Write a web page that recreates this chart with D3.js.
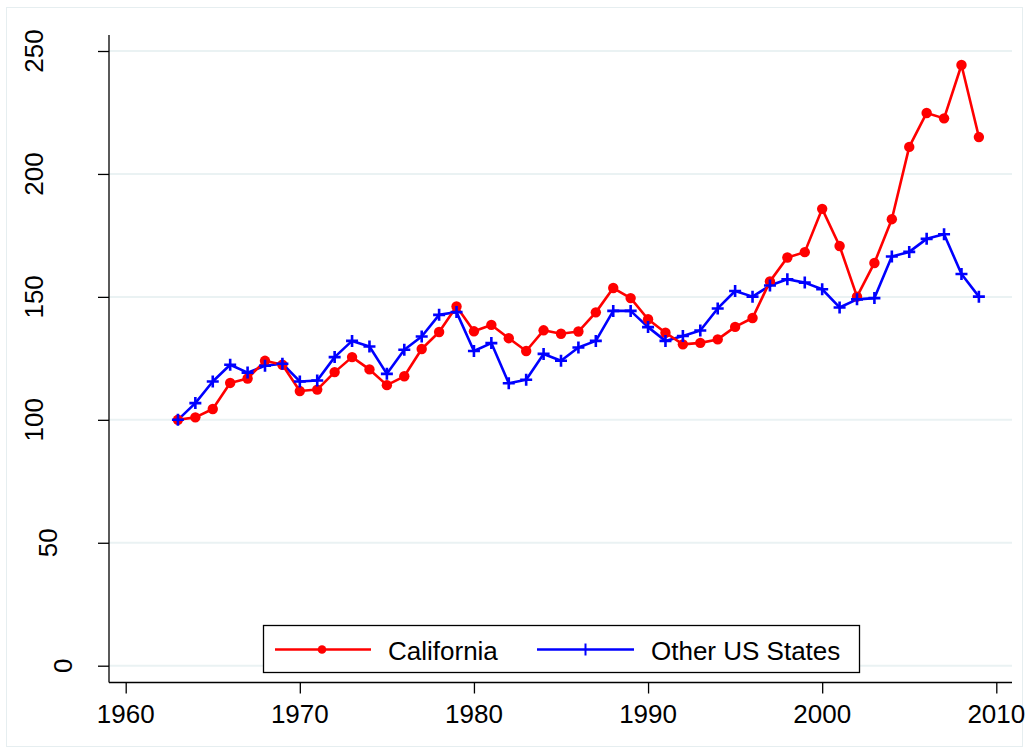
<!DOCTYPE html>
<html>
<head>
<meta charset="utf-8">
<script src="https://cdn.jsdelivr.net/npm/d3@7"></script>
<style>
  body { margin: 0; background: #fff; }
  text { font-family: Arial, "Liberation Sans", sans-serif; fill: #000; }
</style>
</head>
<body>
<svg id="chart" width="1029" height="754"></svg>
<script>
var years = [1963, 1964, 1965, 1966, 1967, 1968, 1969, 1970, 1971, 1972,
    1973, 1974, 1975, 1976, 1977, 1978, 1979, 1980, 1981, 1982,
    1983, 1984, 1985, 1986, 1987, 1988, 1989, 1990, 1991, 1992,
    1993, 1994, 1995, 1996, 1997, 1998, 1999, 2000, 2001, 2002,
    2003, 2004, 2005, 2006, 2007, 2008, 2009];

var california = [100, 101, 104.4, 115, 116.8, 124, 122.4, 111.7, 112.3, 119.4,
    125.5, 120.5, 114.1, 117.7, 128.8, 135.7, 146.1, 136, 138.6, 133.2,
    128, 136.4, 135, 135.9, 143.7, 153.6, 149.5, 140.9, 135.4, 130.7,
    131.3, 132.7, 137.8, 141.4, 156.3, 166, 168.2, 185.8, 170.7, 150.1,
    163.8, 181.6, 211, 224.8, 222.6, 244.3, 215];

var otherStates = [100, 106.8, 115.6, 122.4, 119.2, 122, 122.8, 115.6, 116, 125.5,
    132.1, 129.8, 118.7, 128.5, 133.9, 142.7, 143.8, 128, 131.2, 114.9,
    116.3, 126.8, 124, 129.4, 132.1, 144.3, 144.3, 137.7, 132.1, 134.1,
    136.3, 145.3, 152.4, 150.1, 154.6, 157.2, 155.8, 153.1, 145.7, 149,
    149.5, 166.4, 168.3, 173.6, 175.5, 159.3, 150.1];

var xTicks = [1960, 1970, 1980, 1990, 2000, 2010];
var yTicks = [0, 50, 100, 150, 200, 250];
var seriesNames = ["California", "Other US States"];

var svg = d3.select("#chart");

// outer graph region border
svg.append("rect")
    .attr("x", 6.5).attr("y", 7.5)
    .attr("width", 1016).attr("height", 739)
    .style("fill", "white").style("stroke", "#e6eef0").style("stroke-width", 1);

var x = d3.scaleLinear().domain([1960, 2010]).range([125.7, 996.3]);
var y = d3.scaleLinear().domain([0, 250]).range([665.7, 51]);

var axisX0 = 109, axisY0 = 682.5, plotRight = 1012, plotTop = 35;

// gridlines
svg.append("g").selectAll("line")
    .data(yTicks).enter().append("line")
    .attr("x1", axisX0).attr("x2", plotRight)
    .attr("y1", function(d) { return y(d); })
    .attr("y2", function(d) { return y(d); })
    .style("stroke", "#eaf2f3").style("stroke-width", 2);

// y axis
var yAxis = d3.axisLeft(y).tickValues(yTicks).tickSize(11).tickFormat("");
var gy = svg.append("g").attr("transform", "translate(" + axisX0 + ",0)").call(yAxis);
gy.select(".domain").remove();
gy.selectAll(".tick line").style("stroke", "#000").style("stroke-width", 1.3);
svg.append("line")
    .attr("x1", axisX0).attr("x2", axisX0)
    .attr("y1", plotTop).attr("y2", axisY0)
    .style("stroke", "#000").style("stroke-width", 1.3);

// vertical labels; the reference shifts shorter labels toward the axis
var yLabels = svg.append("g").selectAll("text")
    .data(yTicks).enter().append("text")
    .attr("text-anchor", "middle")
    .style("font-size", "26px")
    .text(function(d) { return d; });
yLabels.attr("transform", function(d) {
    var w = this.getComputedTextLength();
    return "translate(" + (86.4 - w) + "," + y(d) + ") rotate(-90)";
});

// x axis
var xAxis = d3.axisBottom(x).tickValues(xTicks).tickSize(11).tickFormat("");
var gx = svg.append("g").attr("transform", "translate(0," + axisY0 + ")").call(xAxis);
gx.select(".domain").remove();
gx.selectAll(".tick line").style("stroke", "#000").style("stroke-width", 1.3);
svg.append("line")
    .attr("x1", axisX0).attr("x2", plotRight)
    .attr("y1", axisY0).attr("y2", axisY0)
    .style("stroke", "#000").style("stroke-width", 1.3);
svg.append("g").selectAll("text")
    .data(xTicks).enter().append("text")
    .attr("x", function(d) { return x(d); })
    .attr("y", 723)
    .attr("text-anchor", "middle")
    .style("font-size", "26px")
    .text(function(d) { return d; });

var line = d3.line()
    .x(function(d) { return x(d[0]); })
    .y(function(d) { return y(d[1]); });

var caData = years.map(function(yr, i) { return [yr, california[i]]; });
var otherData = years.map(function(yr, i) { return [yr, otherStates[i]]; });

// other US states (blue, plus markers)
svg.append("path").datum(otherData)
    .attr("d", line)
    .style("fill", "none").style("stroke", "#0000ff").style("stroke-width", 2.6)
    .style("stroke-linejoin", "round");

// california (red, circles)
svg.append("path").datum(caData)
    .attr("d", line)
    .style("fill", "none").style("stroke", "#ff0000").style("stroke-width", 2.6)
    .style("stroke-linejoin", "round");

svg.append("g").selectAll("circle")
    .data(caData).enter().append("circle")
    .attr("cx", function(d) { return x(d[0]); })
    .attr("cy", function(d) { return y(d[1]); })
    .attr("r", 5.2)
    .style("fill", "#ff0000");

var plus = svg.append("g").selectAll("g")
    .data(otherData).enter().append("g")
    .attr("transform", function(d) { return "translate(" + x(d[0]) + "," + y(d[1]) + ")"; });
plus.append("path")
    .attr("d", "M-6,0H6M0,-6V6")
    .style("stroke", "#0000ff").style("stroke-width", 2.6);

// legend
var legend = svg.append("g");
legend.append("rect")
    .attr("x", 263.5).attr("y", 625.5)
    .attr("width", 596).attr("height", 47)
    .style("fill", "white").style("stroke", "#000").style("stroke-width", 1.3);

legend.append("line")
    .attr("x1", 275).attr("x2", 371).attr("y1", 649.5).attr("y2", 649.5)
    .style("stroke", "#ff0000").style("stroke-width", 2.6);
legend.append("circle")
    .attr("cx", 322).attr("cy", 649.5).attr("r", 4.3)
    .style("fill", "#ff0000");
legend.append("text")
    .attr("x", 388).attr("y", 660)
    .style("font-size", "26px")
    .text(seriesNames[0]);

legend.append("line")
    .attr("x1", 537).attr("x2", 634).attr("y1", 649.5).attr("y2", 649.5)
    .style("stroke", "#0000ff").style("stroke-width", 2.6);
legend.append("path")
    .attr("d", "M585.5,643.5V655.5")
    .style("stroke", "#0000ff").style("stroke-width", 2);
legend.append("text")
    .attr("x", 651).attr("y", 660)
    .style("font-size", "26px")
    .text(seriesNames[1]);
</script>
</body>
</html>
